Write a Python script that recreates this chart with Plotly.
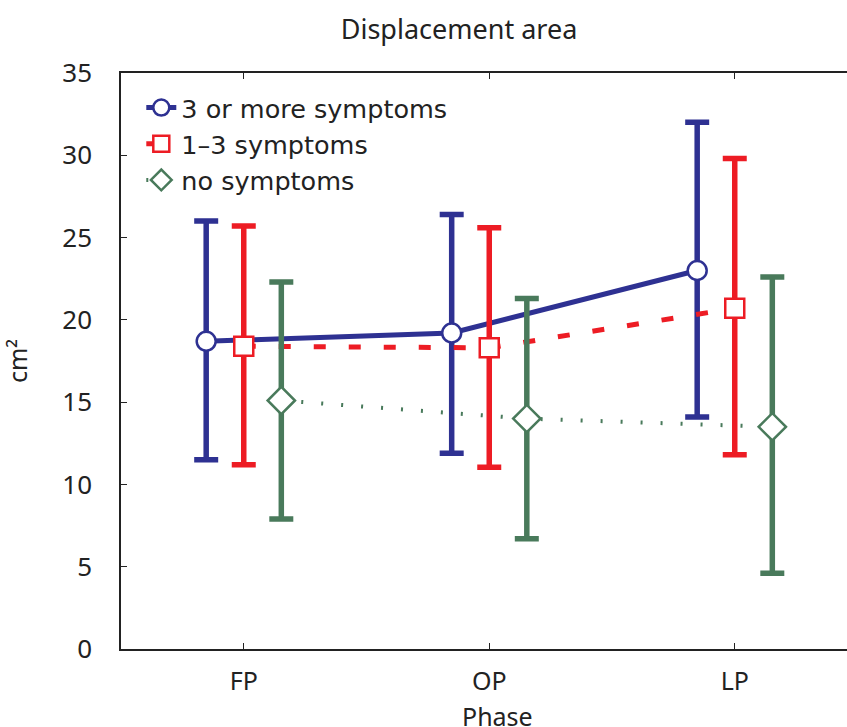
import plotly.graph_objects as go

phases = ["FP", "OP", "LP"]
phase_pos = [1, 2, 3]
series_names = ["3 or more symptoms", "1\u20133 symptoms", "no symptoms"]

mean_3plus = [18.7, 19.2, 23.0]
upper_3plus = [26.0, 26.4, 32.0]
lower_3plus = [11.5, 11.9, 14.1]

mean_1to3 = [18.4, 18.3, 20.7]
upper_1to3 = [25.7, 25.6, 29.8]
lower_1to3 = [11.2, 11.05, 11.8]

mean_none = [15.1, 14.0, 13.5]
upper_none = [22.3, 21.3, 22.6]
lower_none = [7.9, 6.7, 4.6]

offsets = [-0.153, 0.0, 0.153]
colors = ["#2E3192", "#ED1C24", "#497A5B"]
symbols = ["circle", "square", "diamond"]
dashes = ["solid", "12px,23px", "2px,18px"]
widths = [5, 5, 4]

# Figure is a little wider than the window so the open right side of the frame is cropped
W, H = 862, 727
L, T, B = 121, 73, 727 - 649
PLOT_W = W - L
PLOT_H = H - T - B
PX_PER_UNIT = 245.5
x_range = [0.5, 0.5 + PLOT_W / PX_PER_UNIT]

fig = go.Figure()
data = [(mean_3plus, upper_3plus, lower_3plus),
        (mean_1to3, upper_1to3, lower_1to3),
        (mean_none, upper_none, lower_none)]
for i, (m, u, l) in enumerate(data):
    xs = [p + offsets[i] for p in phase_pos]
    fig.add_trace(go.Scatter(
        x=xs, y=m, name=series_names[i], mode="lines+markers",
        line=dict(color=colors[i], width=widths[i], dash=dashes[i]),
        marker=dict(symbol=symbols[i], size=19 if i < 2 else 21,
                    color="white", line=dict(color=colors[i], width=2.5)),
        error_y=dict(type="data", symmetric=False,
                     array=[uu - mm for uu, mm in zip(u, m)],
                     arrayminus=[mm - ll for mm, ll in zip(m, l)],
                     color=colors[i], thickness=5.5, width=12),
    ))

font_main = "Noto Sans"
txt = "#222"
fig.update_layout(
    width=W, height=H,
    margin=dict(l=L, r=0, t=T, b=B),
    plot_bgcolor="white", paper_bgcolor="white",
    title=dict(text="Displacement area", x=459 / W, xanchor="center",
               y=1 - 30 / H, yanchor="middle",
               font=dict(family=font_main, size=27, color=txt), automargin=False),
    font=dict(family=font_main, color=txt),
    showlegend=True,
    legend=dict(x=20.3 / PLOT_W, y=0.98, xanchor="left", yanchor="top",
                font=dict(family="DejaVu Sans", size=25.5, color=txt),
                bgcolor="rgba(0,0,0,0)", tracegroupgap=0, itemwidth=30),
    annotations=[dict(text="Phase", xref="paper", yref="paper",
                      x=(497 - L) / PLOT_W, y=-(716 - 649) / PLOT_H,
                      xanchor="center", yanchor="middle", showarrow=False,
                      font=dict(family=font_main, size=25, color=txt))],
)
fig.update_xaxes(
    range=x_range, tickvals=phase_pos, ticktext=phases, automargin=False,
    showline=True, linecolor=txt, linewidth=1.5, mirror="ticks",
    ticks="inside", ticklen=6, tickcolor=txt, showgrid=False, zeroline=False,
    tickfont=dict(family=font_main, size=25, color=txt),
    ticklabelstandoff=9,
)
fig.update_yaxes(
    range=[0, 35], tickvals=[0, 5, 10, 15, 20, 25, 30, 35], automargin=False,
    showline=True, linecolor=txt, linewidth=1.5, mirror=False,
    ticks="inside", ticklen=6, tickcolor=txt, showgrid=False, zeroline=False,
    tickfont=dict(family=font_main, size=26, color=txt),
    ticklabelstandoff=22,
    title=dict(text="cm\u00b2", font=dict(family=font_main, size=25, color=txt), standoff=28),
)
fig.write_html(
    "out.html",
    config={"displayModeBar": False},
    post_script="document.body.style.margin='0';document.body.style.overflow='hidden';",
)
